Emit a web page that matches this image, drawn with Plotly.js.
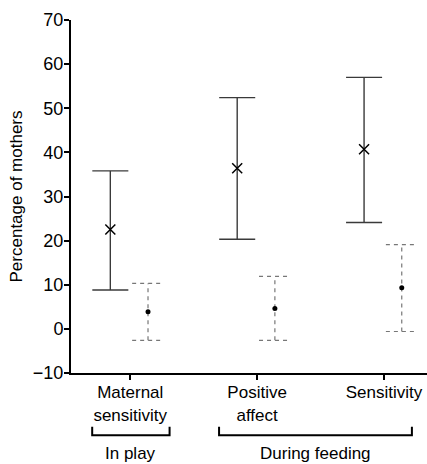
<!DOCTYPE html>
<html>
<head>
<meta charset="utf-8">
<script src="https://cdn.plot.ly/plotly-3.0.1.min.js"></script>
<style>html,body{margin:0;padding:0;background:#fff;}#chart{width:427px;height:464px;}</style>
</head>
<body>
<div id="chart"></div>
<script>
// ---- data ----
const categories = ["Maternal<br>sensitivity", "Positive<br>affect", "Sensitivity"];
const groupLabels = ["In play", "During feeding"];
const groupFirst = [0, 1];
const groupLast = [0, 2];
const solidMean = [22.5, 36.4, 40.7];
const solidLow = [8.8, 20.3, 24.1];
const solidHigh = [35.8, 52.4, 57.0];
const dashMean = [3.9, 4.6, 9.3];
const dashLow = [-2.6, -2.6, -0.6];
const dashHigh = [10.3, 11.9, 19.1];
const yTicks = [-10, 0, 10, 20, 30, 40, 50, 60, 70];

// ---- style ----
const FONT = "Liberation Sans, Arial, Helvetica, sans-serif";
const solidOffset = -0.157, dashOffset = 0.14;
const solidCap = 0.142, dashCap = 0.125;
const bracketPadL = [0.30, 0.30], bracketPadR = [0.31, 0.22];

function barPath(idx, off, cap, lo, hi) {
  const xs = [], ys = [];
  idx.forEach(i => {
    const x = i + off;
    xs.push(x, x, null, x - cap, x + cap, null, x - cap, x + cap, null);
    ys.push(lo[i], hi[i], null, lo[i], lo[i], null, hi[i], hi[i], null);
  });
  return {x: xs, y: ys};
}
const idx = categories.map((_, i) => i);
const sp = barPath(idx, solidOffset, solidCap, solidLow, solidHigh);
const dp = barPath(idx, dashOffset, dashCap, dashLow, dashHigh);

const traces = [
  {type: 'scatter', mode: 'lines', x: sp.x, y: sp.y, line: {color: '#3a3a3a', width: 1.4}, hoverinfo: 'skip', showlegend: false},
  {type: 'scatter', mode: 'lines', x: dp.x, y: dp.y, line: {color: '#777', width: 1.2, dash: '4px,4px'}, hoverinfo: 'skip', showlegend: false},
  {type: 'scatter', mode: 'markers', x: idx.map(i => i + solidOffset), y: solidMean,
   marker: {symbol: 'x-thin', size: 10, color: '#000', line: {width: 1.5, color: '#000'}}, showlegend: false},
  {type: 'scatter', mode: 'markers', x: idx.map(i => i + dashOffset), y: dashMean,
   marker: {symbol: 'circle', size: 5, color: '#000'}, showlegend: false}
];

const shapes = [], annotations = [];
groupLabels.forEach((g, k) => {
  const x0 = groupFirst[k] - bracketPadL[k], x1 = groupLast[k] + bracketPadR[k];
  shapes.push({type: 'path', xref: 'x', yref: 'paper',
    path: `M ${x0},-0.152 L ${x0},-0.176 L ${x1},-0.176 L ${x1},-0.152`,
    line: {color: '#000', width: 2}});
  annotations.push({text: g, xref: 'x', yref: 'paper', x: (x0 + x1) / 2, y: -0.228,
    showarrow: false, xanchor: 'center', yanchor: 'middle', font: {family: FONT, size: 17, color: '#000'}});
});

const layout = {
  width: 427, height: 464,
  margin: {l: 71, r: 0, t: 20, b: 91},
  paper_bgcolor: '#fff', plot_bgcolor: '#fff',
  font: {family: FONT, size: 17, color: '#000'},
  xaxis: {range: [-0.467, 2.339], tickvals: idx, ticktext: categories,
    showline: true, linewidth: 2, linecolor: '#000', ticks: 'outside', ticklen: 5, tickwidth: 2,
    tickcolor: '#000', showgrid: false, zeroline: false, fixedrange: true,
    ticklabelstandoff: -2,
    tickfont: {family: FONT, size: 17, color: '#000'}},
  yaxis: {range: [-10, 70], tickvals: yTicks, showline: true, linewidth: 2, linecolor: '#000',
    ticks: 'outside', ticklen: 5, tickwidth: 2, tickcolor: '#000', showgrid: false, zeroline: false,
    ticklabelstandoff: -3,
    tickfont: {family: FONT, size: 18, color: '#000'},
    title: {text: 'Percentage of mothers', font: {family: FONT, size: 17, color: '#000'}, standoff: 6}},
  shapes: shapes, annotations: annotations, showlegend: false
};
Plotly.newPlot('chart', traces, layout, {displayModeBar: false, staticPlot: true});
</script>
</body>
</html>
